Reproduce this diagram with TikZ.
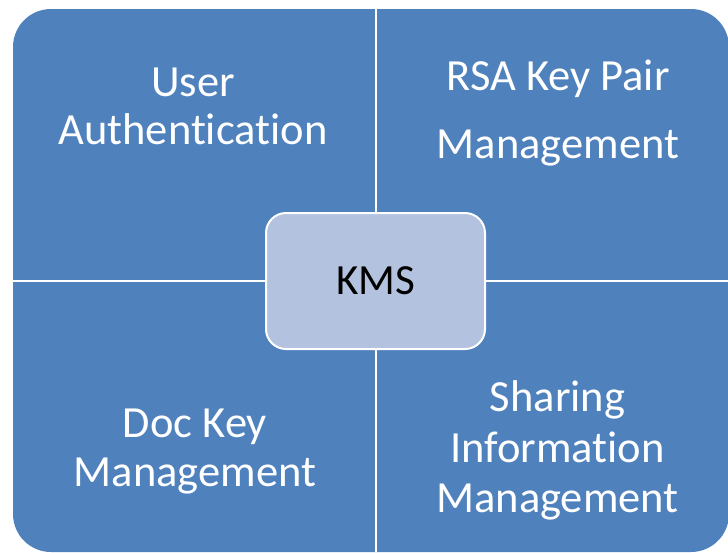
\documentclass[tikz,border=0pt]{standalone}
\usepackage{fontspec}
\setmainfont{Carlito}[Ligatures=NoCommon,RawFeature={-liga}]
\definecolor{quadblue}{HTML}{4F81BD}
\definecolor{kmsfill}{HTML}{B3C2DE}
\tikzset{
  quadtext/.style={anchor=north, inner sep=0pt, align=center, text=white,
    font=\fontsize{44.5}{49}\selectfont},
  kmsbox/.style={draw=white, line width=2pt, fill=kmsfill, rounded corners=20pt,
    minimum width=219pt, minimum height=136pt, inner sep=0pt,
    font=\fontsize{43}{49}\selectfont, text=black}
}
\newcommand{\firstline}{\rule{0pt}{32pt}}
\begin{document}
\begin{tikzpicture}[x=1pt,y=-1pt]
\useasboundingbox (0,0) rectangle (728,552);
% outer matrix shape
\fill[quadblue, rounded corners=38pt] (13,9) rectangle (729,552);
% white dividers
\draw[white, line width=2pt] (376,9) -- (376,552);
\draw[white, line width=2pt] (13,281) -- (729,281);
% quadrant texts
\node[quadtext, font=\fontsize{44.5}{47.3}\selectfont] (ua) at (193,64.7) {\firstline User\\Authentication};
\node[quadtext] (rsa) at (558,58) {\firstline RSA Key Pair\\[19pt]Management};
\node[quadtext] (doc) at (195,405.7) {\firstline Doc Key\\Management};
\node[quadtext, font=\fontsize{44.5}{50.5}\selectfont] (share) at (557.5,379.7) {\firstline Sharing\\Information\\Management};
% centre
\node[kmsbox] (kms) at (375.5,281) {KMS};
\end{tikzpicture}
\end{document}
